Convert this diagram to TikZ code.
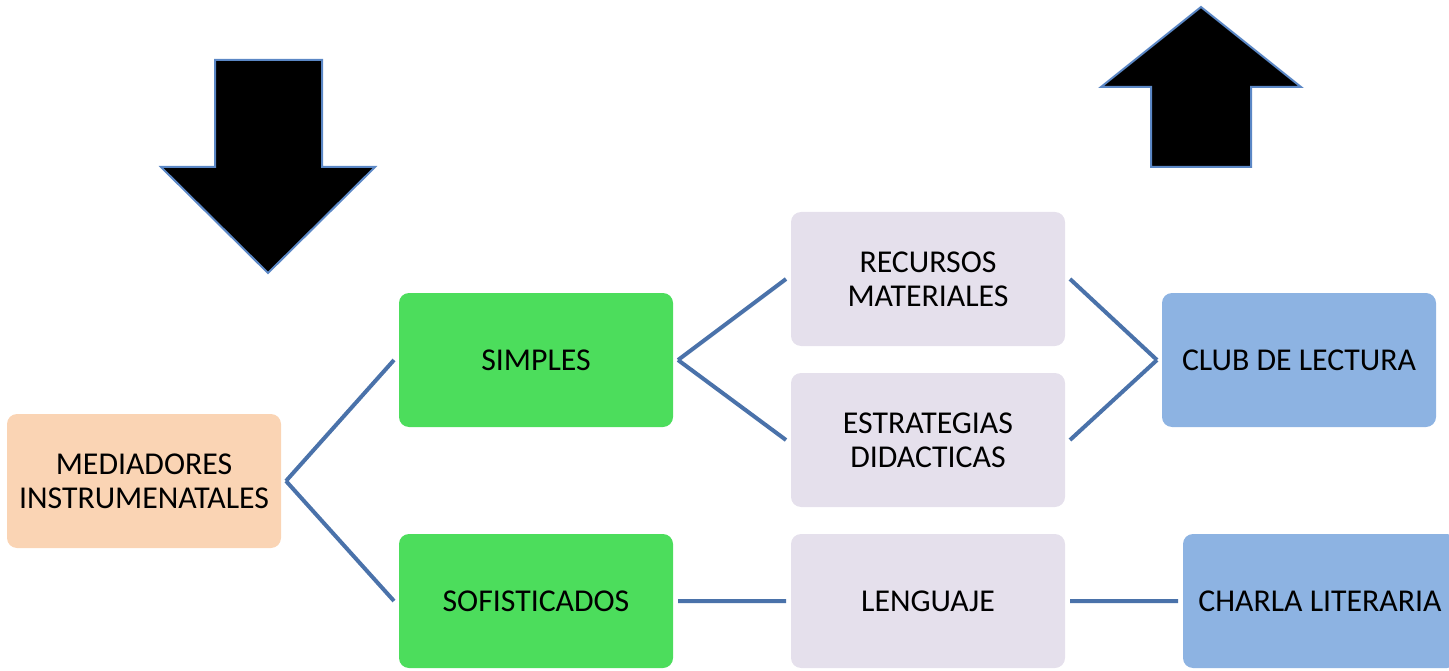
\documentclass[tikz,border=0pt]{standalone}
\usepackage{fontspec}
\setmainfont{Carlito}
\usepackage{xcolor}
\usetikzlibrary{positioning}
\definecolor{peach}{HTML}{FAD4B4}
\definecolor{leaf}{HTML}{4CDD5C}
\definecolor{lilac}{HTML}{E5E0EC}
\definecolor{sky}{HTML}{8DB3E2}
\definecolor{link}{HTML}{4A72AA}
\definecolor{rim}{HTML}{5B87C5}

\begin{document}
\begin{tikzpicture}[x=1pt,y=-1pt,
  box/.style={rounded corners=10pt,minimum width=274pt,minimum height=134pt,
    align=center,inner sep=0pt,outer sep=5pt,font=\fontsize{31.8}{34}\selectfont},
  conn/.style={link,line width=4pt},
  bigarrow/.style={fill=black,draw=rim,line width=2pt,line join=miter}]
\useasboundingbox (0,0) rectangle (1449,671);

\node(med)[box,fill=peach] at (144,481) {MEDIADORES\\INSTRUMENATALES};

\node(sim)[box,fill=leaf] at (536,360) {SIMPLES};
\node(sof)[box,fill=leaf] at (536,601) {SOFISTICADOS};

\node(rec)[box,fill=lilac] at (928,279) {RECURSOS\\MATERIALES};
\node(est)[box,fill=lilac] at (928,440) {ESTRATEGIAS\\DIDACTICAS};
\node(len)[box,fill=lilac] at (928,601) {LENGUAJE};

\node(club)[box,fill=sky] at (1299,360) {CLUB DE LECTURA};
\node(charla)[box,fill=sky] at (1320,601) {CHARLA LITERARIA};

\draw[conn] (med.east) -- (sim.west)
            (med.east) -- (sof.west)
            (sim.east) -- (rec.west)
            (sim.east) -- (est.west)
            (rec.east) -- (club.west)
            (est.east) -- (club.west)
            (sof.east) -- (len.west)
            (len.east) -- (charla.west);

\draw[bigarrow] (215,60) -- (322,60) -- (322,167) -- (375,167) -- (268,273)
  -- (161,167) -- (215,167) -- cycle;
\draw[bigarrow] (1201,7) -- (1301,87) -- (1251,87) -- (1251,167) -- (1151,167)
  -- (1151,87) -- (1101,87) -- cycle;
\end{tikzpicture}
\end{document}
